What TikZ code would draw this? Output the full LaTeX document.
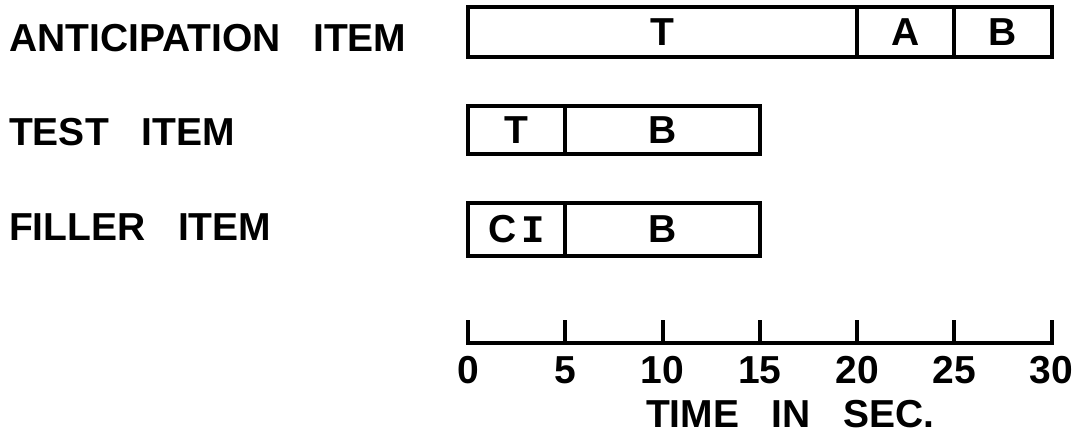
\documentclass[tikz,border=0pt]{standalone}
\usepackage{fontspec}
\setmainfont[WordSpace=3]{Liberation Sans}
\newfontfamily\serifmono{Liberation Mono}
\tikzset{every node/.style={font=\fontsize{39}{44}\selectfont\bfseries, inner sep=0pt}}
\tikzset{seg/.style={line width=4pt, line join=miter},
         rowlab/.style={anchor=base west}}

\begin{document}
\begin{tikzpicture}[x=19.45pt, y=19.45pt]
  \useasboundingbox (-24.06,-5.19) rectangle (31.41,17.64);
  % the three items
  \begin{scope}[seg]
    \draw (0,14.7) rectangle (20,17.3);
    \draw (20,14.7) rectangle (25,17.3);
    \draw (25,14.7) rectangle (30,17.3);
    \draw (0,9.7) rectangle (5,12.2);
    \draw (5,9.7) rectangle (15,12.2);
    \draw (0,4.5) rectangle (5,7.2);
    \draw (5,4.5) rectangle (15,7.2);
  \end{scope}
  \node (antT) at (10,16) {T};
  \node (antA) at (22.5,16) {A};
  \node (antB) at (27.5,16) {B};
  \node (testT) at (2.5,10.95) {T};
  \node (testB) at (10,10.95) {B};
  \node (fillCI) at (2.5,5.85) {C\hspace{5pt}{\serifmono\bfseries I}};
  \node (fillB) at (10,5.85) {B};
  \node[rowlab] (antlab) at (-23.6,15.01) {ANTICIPATION ITEM};
  \node[rowlab] (testlab) at (-23.6,10.18) {TEST ITEM};
  \node[rowlab] (filllab) at (-23.6,5.30) {FILLER ITEM};
  % time axis
  \draw[seg] (0,1.18) -- (0,0) -- (30,0) -- (30,1.18);
  \foreach\t in {5,10,...,25} \draw[seg] (\t,0) -- (\t,1.18);
  \foreach\t in {0,5,...,30} \node[anchor=base] (tick\t) at (\t,-2.06) {\t};
  \node[anchor=base] (axislab) at (16.56,-4.32) {TIME IN SEC.};
\end{tikzpicture}
\end{document}
